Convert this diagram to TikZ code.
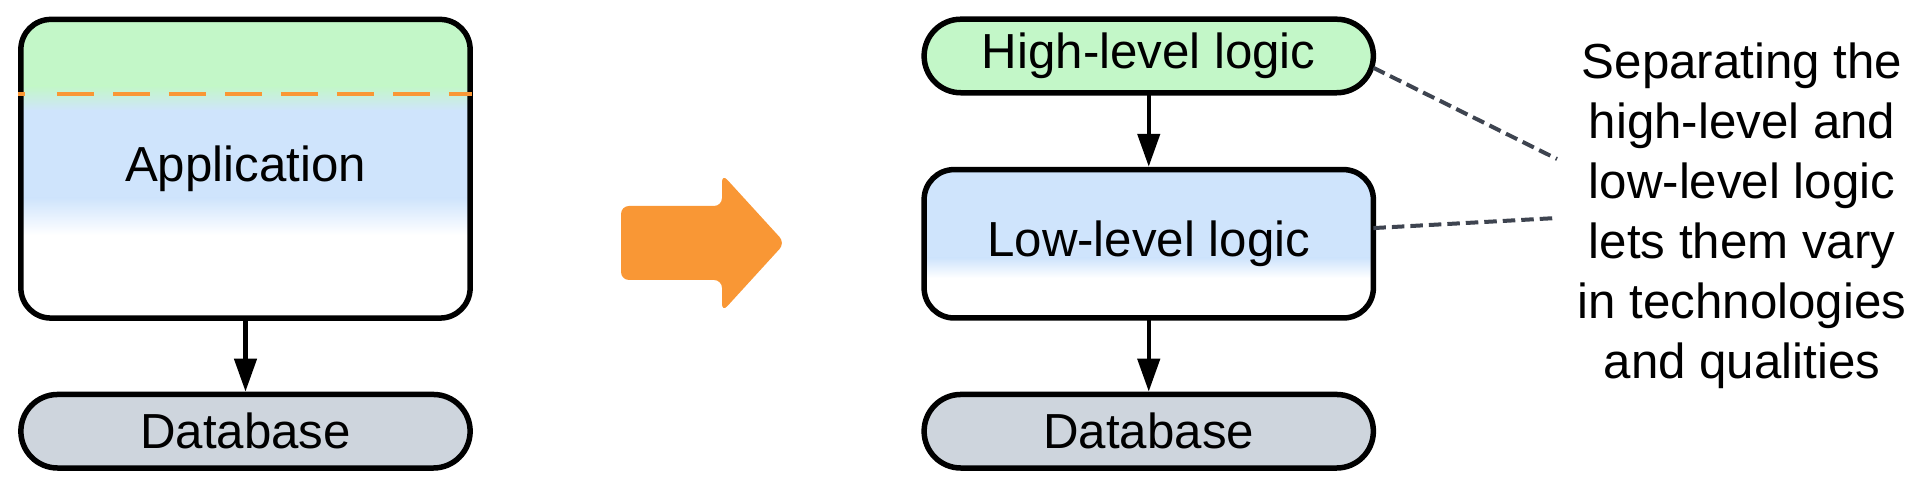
\documentclass[tikz,border=0pt]{standalone}
\usepackage{fontspec}
\setmainfont{Liberation Sans}
\usetikzlibrary{arrows.meta,backgrounds}
\definecolor{hlgreen}{RGB}{195,247,200}
\definecolor{llblue}{RGB}{207,228,252}
\definecolor{dbgray}{RGB}{206,213,221}
\definecolor{shiftorange}{RGB}{249,151,53}
\definecolor{notegray}{RGB}{62,68,80}
\tikzset{
  box/.style={draw, line width=0.055cm, rounded corners=0.3cm, outer sep=0pt, inner sep=0pt, minimum width=4.49cm},
  pill/.style={box, rounded corners=0.367cm, minimum height=0.735cm},
  link/.style={-{Triangle[length=0.33cm,width=0.22cm]}, line width=0.045cm, shorten >=0.028cm},
  note/.style={draw=notegray, line width=0.04cm, dash pattern=on 0.125cm off 0.06cm}
}
\begin{document}
\begin{tikzpicture}[x=0.01cm, y=-0.01cm, font=\fontsize{14}{17.07}\selectfont]
    \useasboundingbox (0,0) rectangle (1929,486);
    % before
    \node[box, minimum height=2.985cm] (app) at (245.5,168.75) {Application};
    \node[pill, fill=dbgray] (db) at (245.5,431.25) {Database};
    \draw[link] (app) -- (db);
    % after
    \node[pill, fill=hlgreen] (high) at (1148.75,56) {High-level logic};
    \node[box, minimum height=1.483cm] (low) at (1148.75,243.8) {Low-level logic};
    \node[pill, fill=dbgray] (db2) at (1148.75,431.25) {Database};
    \draw[link] (high) -- (low);
    \draw[link] (low) -- (db2);
    % fills behind the two big boxes
    \begin{scope}[on background layer]
        \begin{scope}
            \clip[rounded corners=0.3cm] (app.north west) rectangle (app.south east);
            \fill[hlgreen] (0,0) rectangle (500,87);
            \shade[top color=hlgreen, bottom color=llblue] (0,86) rectangle (500,111);
            \fill[llblue] (0,110) rectangle (500,199);
            \shade[top color=llblue, bottom color=white] (0,198) rectangle (500,235);
        \end{scope}
        \begin{scope}
            \clip[rounded corners=0.3cm] (low.north west) rectangle (low.south east);
            \fill[llblue] (900,150) rectangle (1400,259);
            \shade[top color=llblue, bottom color=white] (900,258) rectangle (1400,278);
        \end{scope}
    \end{scope}
    \draw[shiftorange, line width=0.04cm, dash pattern=on 0.37cm off 0.19cm] (18,94) -- (25,94) (57,94) -- (472,94);
    % the shift
    \fill[shiftorange, rounded corners=0.08cm] (621,206) -- (722,206) -- (722,174) -- (785,243) -- (722,312) -- (722,280) -- (621,280) -- cycle;
    % note
    \node[align=center, inner sep=0pt] (note) at (1742,216) {Separating the\\high-level and\\low-level logic\\lets them vary\\in technologies\\and qualities};
    \coordinate (n1) at (1557,159);
    \coordinate (n2) at (1557,218);
    \draw[note] (high.-3) -- (n1);
    \draw[note] (low.4) -- (n2);
\end{tikzpicture}
\end{document}
